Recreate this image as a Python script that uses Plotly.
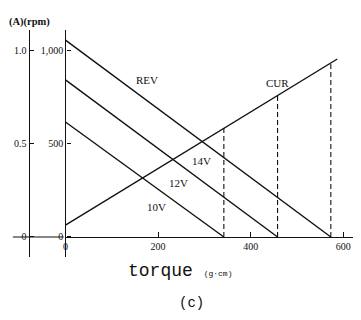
import plotly.graph_objects as go

# Motor characteristics: speed (REV) vs torque at three supply voltages,
# and current (CUR) vs torque.
voltages = ["10V", "12V", "14V"]
no_load_rpm = [615, 840, 1053]          # rpm at zero torque
stall_torque = [342, 458, 573]          # g·cm where speed reaches 0
stall_current = [0.585, 0.76, 0.93]     # A at each stall torque
cur_torque = [0, 587]                   # current line end points (g·cm)
cur_amps = [0.064, 0.952]               # A

x_ticks = [0, 200, 400, 600]
rpm_ticks = [0, 500, 1000]
rpm_labels = ["0", "500", "1,000"]
amp_ticks = [0, 0.5, 1.0]
amp_labels = ["0", "0.5", "1.0"]

W, H = 361, 320
serif = "Liberation Serif, Times New Roman, serif"
mono = "Liberation Mono, Courier New, monospace"
ink = "#111111"

fig = go.Figure()

for v, r0, ts in zip(voltages, no_load_rpm, stall_torque):
    fig.add_trace(go.Scatter(x=[0, ts], y=[r0, 0], mode="lines",
                             line=dict(color=ink, width=1.4), name=v,
                             showlegend=False, hoverinfo="skip"))

fig.add_trace(go.Scatter(x=cur_torque, y=cur_amps, yaxis="y2", mode="lines",
                         line=dict(color=ink, width=1.4), showlegend=False,
                         hoverinfo="skip"))

for ts, ia in zip(stall_torque, stall_current):
    fig.add_trace(go.Scatter(x=[ts, ts], y=[0, ia], yaxis="y2", mode="lines",
                             line=dict(color=ink, width=1.1, dash="5px,3px"),
                             showlegend=False, hoverinfo="skip"))

# pixel helpers for the layout
px = lambda p: p / W
py = lambda p: 1 - p / H

y_lo, y_hi = -107, 1107
fig.update_layout(
    width=W, height=H,
    margin=dict(l=0, r=0, t=0, b=0),
    paper_bgcolor="white", plot_bgcolor="white",
    xaxis=dict(domain=[px(63), px(353)], range=[0, 621],
               anchor="free", position=py(237),
               showline=True, linecolor=ink, linewidth=1.3,
               ticks="inside", ticklen=5, tickcolor=ink, tickwidth=1.2,
               tickvals=x_ticks, ticktext=[str(t) for t in x_ticks],
               showgrid=False, zeroline=False,
               tickfont=dict(family=serif, size=10, color=ink)),
    yaxis=dict(domain=[py(257), py(30)], range=[y_lo, y_hi],
               anchor="free", position=px(63),
               showline=True, linecolor=ink, linewidth=1.4,
               ticks="inside", ticklen=4, tickcolor=ink, tickwidth=1.2,
               tickvals=rpm_ticks, ticktext=rpm_labels,
               showgrid=False, zeroline=False,
               tickfont=dict(family=serif, size=10, color=ink)),
    yaxis2=dict(domain=[py(257), py(30)], range=[y_lo / 1000, y_hi / 1000],
                overlaying="y", anchor="free", position=px(26), side="left",
                showline=True, linecolor=ink, linewidth=1.4,
                ticks="inside", ticklen=4, tickcolor=ink, tickwidth=1.2,
                tickvals=amp_ticks, ticktext=amp_labels,
                showgrid=False, zeroline=False,
                tickfont=dict(family=serif, size=10, color=ink)),
)

# baseline stub across the current axis
fig.add_shape(type="line", xref="paper", yref="y", x0=px(10), x1=px(61),
              y0=0, y1=0, line=dict(color=ink, width=1.2))

labels = [("REV", 176, 839), ("CUR", 458, 823), ("14V", 293, 409),
          ("12V", 244, 290), ("10V", 197, 161)]
for text, xv, yv in labels:
    fig.add_annotation(x=xv, y=yv, text=text, showarrow=False,
                       font=dict(family=serif, size=11, color=ink))

fig.add_annotation(xref="paper", yref="paper", x=px(4), y=py(14),
                   xanchor="left", text="<b>(A)(rpm)</b>", showarrow=False,
                   font=dict(family=serif, size=10.5, color=ink))
fig.add_annotation(xref="paper", yref="paper", x=px(178), y=py(259),
                   yanchor="top",
                   text="torque <span style='font-size:8px'>(g·cm)</span>",
                   showarrow=False, font=dict(family=mono, size=18, color=ink))
fig.add_annotation(xref="paper", yref="paper", x=px(190), y=py(293),
                   yanchor="top", text="(c)", showarrow=False,
                   font=dict(family=mono, size=14, color=ink))

fig.write_html("out.html")
